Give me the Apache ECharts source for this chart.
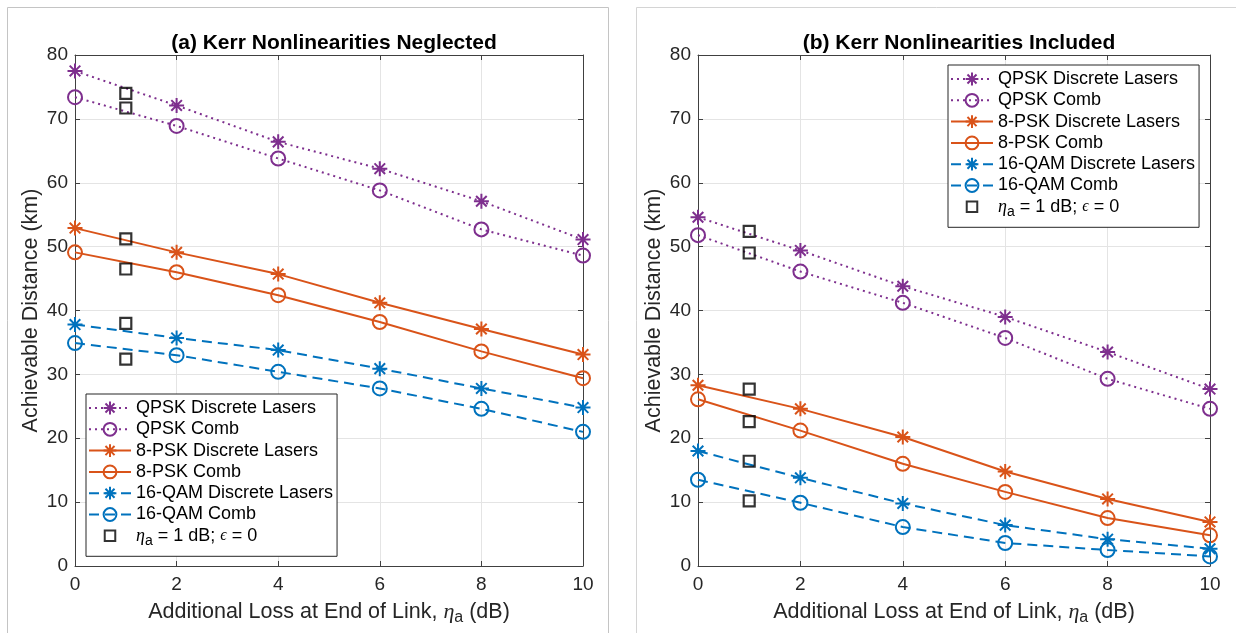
<!DOCTYPE html>
<html>
<head>
<meta charset="utf-8">
<script src="https://cdn.jsdelivr.net/npm/echarts@6/dist/echarts.min.js"></script>
<style>
  html, body { margin: 0; padding: 0; background: #fff; }
  #chart { width: 1236px; height: 633px; }
</style>
</head>
<body>
<div id="chart"></div>
<script>
// x positions (dB)
var lossDb = [0, 2, 4, 6, 8, 10];
var squareX = 1;

// (a) Kerr nonlinearities neglected
var a_qpskDiscrete = [77.5, 72.1, 66.4, 62.2, 57.1, 51.1];
var a_qpskComb = [73.4, 68.9, 63.8, 58.8, 52.7, 48.6];
var a_psk8Discrete = [52.9, 49.1, 45.7, 41.2, 37.1, 33.1];
var a_psk8Comb = [49.1, 46.0, 42.4, 38.2, 33.6, 29.4];
var a_qam16Discrete = [37.8, 35.7, 33.8, 30.9, 27.8, 24.8];
var a_qam16Comb = [34.9, 33.0, 30.4, 27.8, 24.6, 21.0];
var a_squares = [74.0, 71.7, 51.2, 46.5, 38.0, 32.4];

// (b) Kerr nonlinearities included
var b_qpskDiscrete = [54.6, 49.4, 43.8, 39.0, 33.5, 27.7];
var b_qpskComb = [51.8, 46.1, 41.2, 35.7, 29.3, 24.6];
var b_psk8Discrete = [28.3, 24.6, 20.2, 14.8, 10.5, 6.9];
var b_psk8Comb = [26.1, 21.2, 16.0, 11.6, 7.5, 4.8];
var b_qam16Discrete = [18.0, 13.8, 9.8, 6.4, 4.2, 2.7];
var b_qam16Comb = [13.5, 9.9, 6.1, 3.6, 2.5, 1.5];
var b_squares = [52.4, 49.0, 27.7, 22.6, 16.4, 10.2];

var seriesNames = ['QPSK Discrete Lasers', 'QPSK Comb', '8-PSK Discrete Lasers', '8-PSK Comb',
  '16-QAM Discrete Lasers', '16-QAM Comb', 'η_a = 1 dB; ϵ = 0'];

var titles = ['(a) Kerr Nonlinearities Neglected', '(b) Kerr Nonlinearities Included'];

var purple = '#7E2F8E', orange = '#D95319', blue = '#0072BD';
var FONT = 'Liberation Sans';
var STAR = 'path://M0,-10L0,10M-10,0L10,0M-7.07,-7.07L7.07,7.07M-7.07,7.07L7.07,-7.07';
// square for the legend, padded so it stays small inside the icon box
var SQ_ICON = 'path://M-2.6,-2.6L-2.6,-2.6M12.6,12.6L12.6,12.6M0,0L10,0L10,10L0,10Z';

var chart = echarts.init(document.getElementById('chart'));

function pairs(ys) {
  return ys.map(function (y, i) { return [lossDb[i], y]; });
}

function lineSeries(idx, name, ys, color, dash, star) {
  return {
    name: name,
    type: 'line',
    xAxisIndex: idx * 2,
    yAxisIndex: idx * 2,
    data: pairs(ys),
    symbol: star ? STAR : 'circle',
    symbolSize: star ? 15 : 14,
    showAllSymbol: true,
    animation: false,
    lineStyle: { color: color, width: 2, type: dash },
    itemStyle: { color: 'rgba(255,255,255,0)', borderColor: color, borderWidth: 2 },
    emphasis: { disabled: true },
    z: 3
  };
}

function squareSeries(idx, ys) {
  return {
    name: seriesNames[6],
    type: 'scatter',
    xAxisIndex: idx * 2,
    yAxisIndex: idx * 2,
    data: ys.map(function (y) { return [squareX, y]; }),
    symbol: 'rect',
    symbolSize: 11,
    animation: false,
    itemStyle: { color: 'rgba(255,255,255,0)', borderColor: '#000', borderWidth: 2.2 },
    emphasis: { disabled: true },
    z: 5
  };
}

var panels = [
  { grid: { left: 75, top: 55, width: 508, height: 511 },
    data: [a_qpskDiscrete, a_qpskComb, a_psk8Discrete, a_psk8Comb, a_qam16Discrete, a_qam16Comb], sq: a_squares,
    legend: { left: 86, top: 394 } },
  { grid: { left: 698, top: 55, width: 512, height: 511 },
    data: [b_qpskDiscrete, b_qpskComb, b_psk8Discrete, b_psk8Comb, b_qam16Discrete, b_qam16Comb], sq: b_squares,
    legend: { left: 948, top: 65 } }
];

var styleList = [
  [purple, [2, 4], true], [purple, [2, 4], false],
  [orange, 'solid', true], [orange, 'solid', false],
  [blue, [10, 6], true], [blue, [10, 6], false]
];

var grids = [], xAxes = [], yAxes = [], series = [], legends = [], titleList = [];
var axisCol = '#404040';
var legendData = seriesNames.slice(0, 6).concat([{ name: seriesNames[6], icon: SQ_ICON }]);

panels.forEach(function (p, idx) {
  grids.push(p.grid);
  titleList.push({
    text: titles[idx],
    left: p.grid.left + p.grid.width / 2,
    textAlign: 'center',
    top: 28,
    textStyle: { fontFamily: FONT, fontSize: 21, fontWeight: 'bold', color: '#000' }
  });
  xAxes.push({
    gridIndex: idx, type: 'value', min: 0, max: 10, interval: 2,
    name: '{t|Additional Loss at End of Link, }{i|η}{s|a}{t| (dB)}',
    nameLocation: 'middle', nameGap: 32,
    nameTextStyle: {
      rich: {
        t: { fontFamily: FONT, fontSize: 21.5, color: '#262626', lineHeight: 28 },
        i: { fontFamily: 'Liberation Serif', fontStyle: 'italic', fontSize: 22, color: '#262626', lineHeight: 28 },
        s: { fontFamily: FONT, fontSize: 16, color: '#262626', lineHeight: 12, verticalAlign: 'bottom' }
      }
    },
    axisLine: { show: true, onZero: false, lineStyle: { color: axisCol, width: 1 } },
    axisTick: { show: true, inside: true, length: 5, lineStyle: { color: axisCol } },
    axisLabel: { fontFamily: FONT, fontSize: 19, color: '#262626', margin: 9 },
    splitLine: { show: true, lineStyle: { color: '#e4e4e4', width: 1 } }
  });
  xAxes.push({
    gridIndex: idx, type: 'value', min: 0, max: 10, interval: 2, position: 'top',
    axisLine: { show: true, onZero: false, lineStyle: { color: axisCol, width: 1 } },
    axisTick: { show: true, inside: true, length: 5, lineStyle: { color: axisCol } },
    axisLabel: { show: false }, splitLine: { show: false }
  });
  yAxes.push({
    gridIndex: idx, type: 'value', min: 0, max: 80, interval: 10,
    name: 'Achievable Distance (km)', nameLocation: 'middle', nameGap: 33,
    nameTextStyle: { fontFamily: FONT, fontSize: 21.5, color: '#262626' },
    axisLine: { show: true, onZero: false, lineStyle: { color: axisCol, width: 1 } },
    axisTick: { show: true, inside: true, length: 5, lineStyle: { color: axisCol } },
    axisLabel: { fontFamily: FONT, fontSize: 19, color: '#262626', margin: 7 },
    splitLine: { show: true, lineStyle: { color: '#e4e4e4', width: 1 } }
  });
  yAxes.push({
    gridIndex: idx, type: 'value', min: 0, max: 80, interval: 10, position: 'right',
    axisLine: { show: true, onZero: false, lineStyle: { color: axisCol, width: 1 } },
    axisTick: { show: true, inside: true, length: 5, lineStyle: { color: axisCol } },
    axisLabel: { show: false }, splitLine: { show: false }
  });

  p.data.forEach(function (ys, k) {
    var s = styleList[k];
    series.push(lineSeries(idx, seriesNames[k], ys, s[0], s[1], s[2]));
  });
  series.push(squareSeries(idx, p.sq));

  legends.push({
    left: p.legend.left, top: p.legend.top,
    orient: 'vertical',
    data: legendData,
    backgroundColor: '#fff',
    borderColor: '#262626', borderWidth: 1, borderRadius: 0,
    padding: [5, 4, 8, 2],
    itemWidth: 42, itemHeight: 16, itemGap: 3.3,
    selectedMode: false,
    textStyle: {
      fontFamily: FONT, fontSize: 18, color: '#000',
      rich: {
        t: { fontFamily: FONT, fontSize: 18, color: '#000' },
        i: { fontFamily: 'Liberation Serif', fontStyle: 'italic', fontSize: 18, color: '#000' },
        s: { fontFamily: FONT, fontSize: 14, color: '#000', padding: [11, 0, 0, 0] },
        e: { fontFamily: 'Liberation Serif', fontStyle: 'italic', fontSize: 16, color: '#000' }
      }
    },
    formatter: function (name) {
      if (name === seriesNames[6]) return '{i|η}{s|a}{t| = 1 dB; }{e|ϵ}{t| = 0}';
      return name;
    },
    z: 10
  });
});

var option = {
  backgroundColor: '#fff',
  animation: false,
  title: titleList,
  grid: grids,
  xAxis: xAxes,
  yAxis: yAxes,
  legend: legends,
  series: series,
  graphic: [
    { type: 'rect', shape: { x: 7.5, y: 7.5, width: 601, height: 640 },
      style: { fill: 'none', stroke: '#c4c4c4', lineWidth: 1 }, silent: true, z: -10 },
    { type: 'rect', shape: { x: 636.5, y: 7.5, width: 620, height: 640 },
      style: { fill: 'none', stroke: '#d4d4d4', lineWidth: 1 }, silent: true, z: -10 }
  ]
};

chart.setOption(option);
</script>
</body>
</html>
